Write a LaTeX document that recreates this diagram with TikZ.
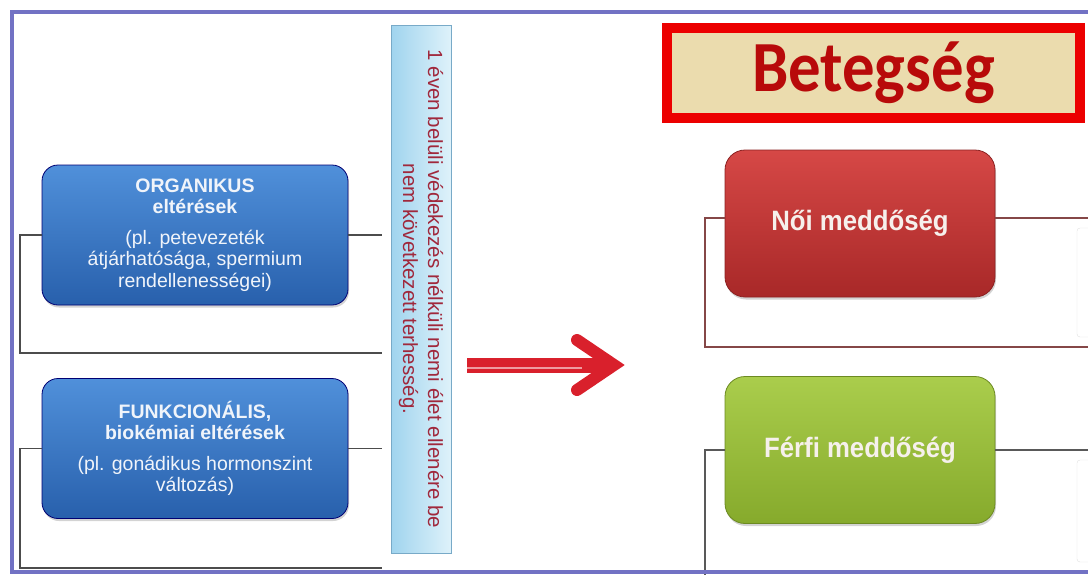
\documentclass[tikz,border=0pt]{standalone}
\usepackage{fontspec}
\setmainfont{Liberation Sans}
\newfontfamily\narrowsans[FakeStretch=0.92]{Liberation Sans}
\newfontfamily\titlefont[FakeStretch=0.9]{Carlito}
\usetikzlibrary{calc,shadows}

\definecolor{framecol}{HTML}{7272C4}
\definecolor{arrowred}{HTML}{D9202C}
\definecolor{noteink}{HTML}{A0283C}
\definecolor{parch}{HTML}{EBDCAE}

\begin{document}
\begin{tikzpicture}[x=1pt,y=-1pt,
    brk/.style={draw=gray!60!black, line width=1.1pt},
    brknoi/.style={draw=red!30!gray!80!black, line width=1.1pt},
    brkfer/.style={draw=gray!70!black, line width=1.1pt},
    softshadow/.style={drop shadow={opacity=0.35, shadow xshift=1pt, shadow yshift=-2.5pt}},
    bluebox/.style={rounded corners=16pt, draw=blue!45!black, line width=0.8pt,
      top color={rgb,255:red,80;green,144;blue,218}, bottom color={rgb,255:red,40;green,96;blue,172},
      text={rgb,255:red,240;green,244;blue,250}, align=center, inner sep=0pt,
      minimum width=306pt, minimum height=140pt,
      font=\fontsize{19.5}{21.5}\selectfont, softshadow},
    illbox/.style={rounded corners=20pt, line width=0.8pt, inner sep=0pt,
      minimum width=270pt, minimum height=147pt,
      text={rgb,255:red,246;green,240;blue,236},
      font=\narrowsans\bfseries\fontsize{28}{30}\selectfont, softshadow},
    notebox/.style={rotate=-90, inner sep=0pt, align=center,
      text=noteink, font=\fontsize{20.5}{25}\selectfont},
    framel/.style={draw=framecol, line width=4pt}
  ]
  \useasboundingbox (0,0) rectangle (1088,574);
  \clip (0,0) rectangle (1088,574);

  % left: kinds of deviations
  \node[bluebox] (org) at (195,235)
    {\textbf{ORGANIKUS}\\ \textbf{eltérések}\\[9pt]
     (pl. petevezeték\\ átjárhatósága, spermium\\ rendellenességei)};
  \node[bluebox] (fun) at (195,448.5)
    {\textbf{FUNKCIONÁLIS,}\\ \textbf{biokémiai eltérések}\\[9pt]
     (pl. gonádikus hormonszint\\ változás)};

  \coordinate (orgBL) at (20,353);
  \coordinate (orgBR) at (382,353);
  \coordinate (funBL) at (20,568);
  \coordinate (funBR) at (382,568);
  \draw[brk] (org.west) -| (orgBL) -- (orgBR);
  \draw[brk] (org.east) -- (org.east -| orgBR);
  \draw[brk] (fun.west) -| (funBL) -- (funBR);
  \draw[brk] (fun.east) -- (fun.east -| funBR);

  % the definition
  \coordinate (defTL) at (391,25);
  \coordinate (defBR) at (451,553);
  \shade[left color={rgb,255:red,160;green,212;blue,238}, right color={rgb,255:red,222;green,242;blue,250}]
    (defTL) rectangle (defBR);
  \draw[draw={rgb,255:red,120;green,170;blue,200}, line width=0.8pt] (defTL) rectangle (defBR);
  \node[notebox] (def) at ($(defTL)!0.5!(defBR)$)
    {1 éven belüli védekezés nélküli nemi élet ellenére be\\ nem következett terhesség.};

  % arrow
  \coordinate (arrS) at (467,365);
  \coordinate (arrT) at (614,365);
  \draw[arrowred, line width=15pt] (arrS) -- ($(arrT)+(-8,0)$);
  \draw[white!55!arrowred, line width=1.6pt] ($(arrS)+(0,3)$) -- ($(arrT)+(-32,3)$);
  \draw[arrowred, line width=12pt, line cap=round, miter limit=10]
    ($(arrT)+(-37,-25)$) -- (arrT) -- ($(arrT)+(-37,25)$);

  % right: the illness
  \node[draw={rgb,255:red,236;green,0;blue,0}, line width=10pt, fill=parch,
        minimum width=413pt, minimum height=90pt, inner sep=0pt,
        text={rgb,255:red,184;green,10;blue,10}, font=\titlefont\bfseries\fontsize{72}{72}\selectfont]
    (title) at (873.5,73) {Betegség};

  \node[illbox, draw={rgb,255:red,140;green,34;blue,34},
        top color={rgb,255:red,214;green,72;blue,70}, bottom color={rgb,255:red,168;green,40;blue,40}]
    (noi) at (860,223.5) {Női meddőség};
  \node[illbox, draw={rgb,255:red,108;green,138;blue,34},
        top color={rgb,255:red,170;green,205;blue,76}, bottom color={rgb,255:red,134;green,170;blue,44}]
    (fer) at (860,450) {Férfi meddőség};

  \coordinate (noiBL) at (705,347);
  \coordinate (noiBR) at (1095,347);
  \coordinate (ferBL) at (705,580);
  \draw[brknoi] ([yshift=5.5pt]noi.west) -| (noiBL) -- (noiBR);
  \draw[brknoi] ([yshift=5.5pt]noi.east) -- ++(120,0);
  \draw[brkfer] (fer.west) -| (ferBL);
  \draw[brkfer] (fer.east) -- ++(120,0);
  % cut off boxes at the edge
  \draw[gray!25, rounded corners=3pt] (1077,228) rectangle (1110,337);
  \draw[gray!25, rounded corners=3pt] (1077,460) rectangle (1110,562);

  % frame
  \draw[framel] (1095,12) -- (12,12) -- (12,572) -- (1095,572);
\end{tikzpicture}
\end{document}
